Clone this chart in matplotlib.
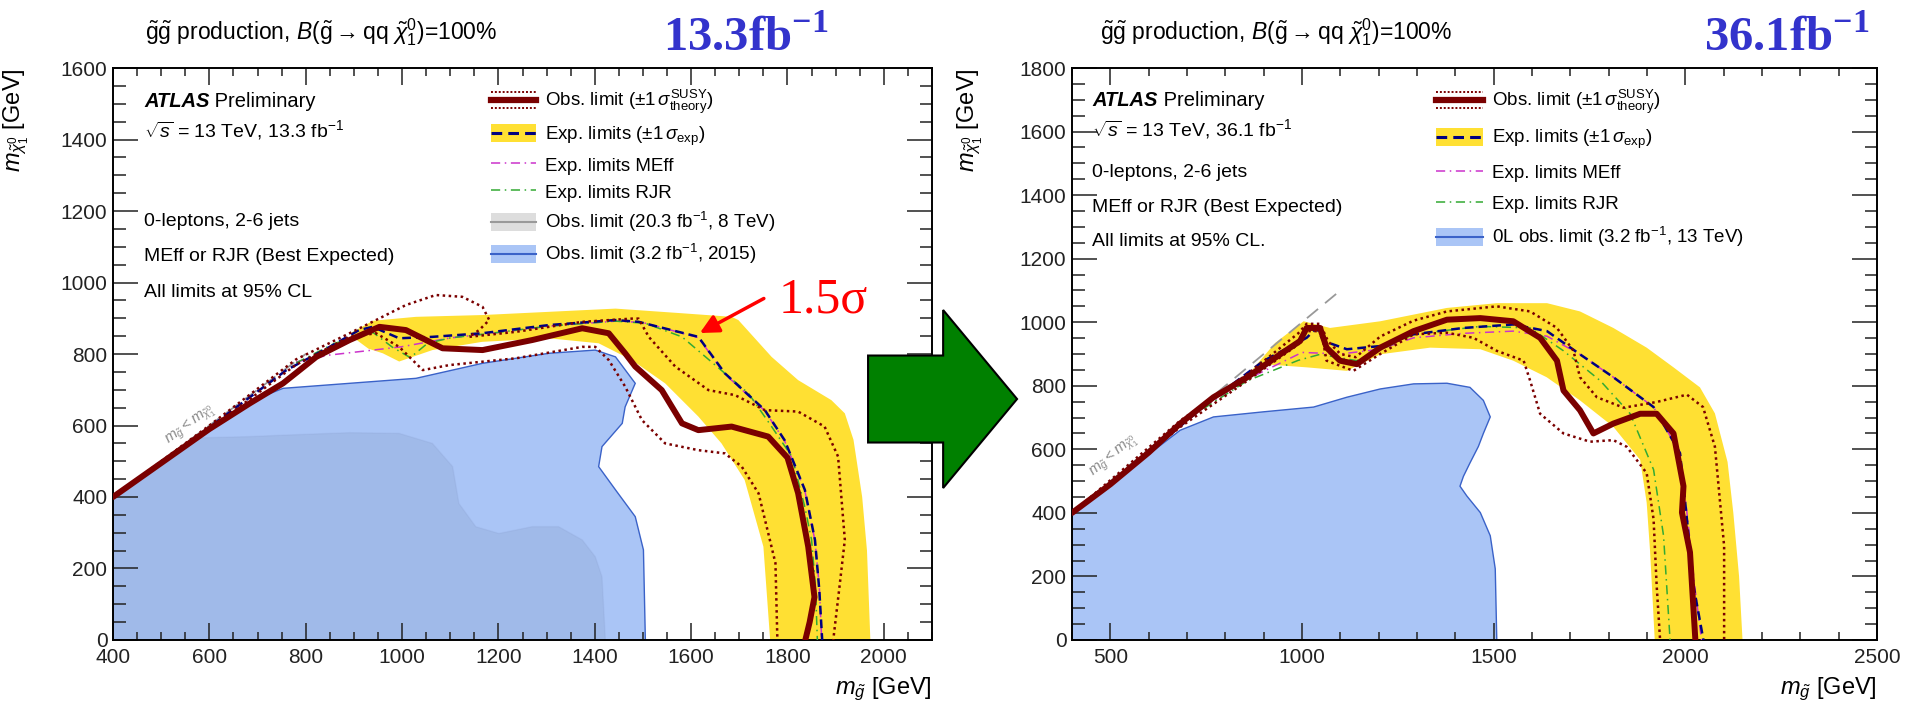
import matplotlib
matplotlib.use("Agg")
import matplotlib.pyplot as plt
from matplotlib.lines import Line2D
from matplotlib.patches import Patch, Rectangle, FancyArrow
from matplotlib.legend_handler import HandlerBase
from matplotlib.ticker import MultipleLocator

plt.rcParams['font.family'] = ['Liberation Sans', 'DejaVu Sans']
plt.rcParams['mathtext.fontset'] = 'custom'
plt.rcParams['mathtext.rm'] = 'Liberation Sans'
plt.rcParams['mathtext.it'] = 'Liberation Sans:italic'
plt.rcParams['mathtext.bf'] = 'Liberation Serif:bold'
plt.rcParams['mathtext.sf'] = 'Liberation Sans'
plt.rcParams['axes.linewidth'] = 1.4

# ---------------- 13.3 fb-1 (left) ----------------
l_blue_x = [400, 400, 684, 753, 891, 1029, 1167, 1305, 1401, 1443, 1484, 1463, 1457, 1415, 1408, 1443, 1484, 1501, 1505]
l_blue_y = [0, 400, 667, 704, 718, 732, 774, 802, 811, 792, 718, 652, 606, 541, 485, 420, 345, 252, 0]

l_grey_x = [400, 400, 565, 684, 753, 891, 994, 1063, 1105, 1118, 1153, 1201, 1270, 1325, 1374, 1401, 1415, 1422]
l_grey_y = [0, 400, 565, 569, 573, 580, 578, 550, 485, 382, 317, 298, 317, 317, 280, 233, 177, 0]

l_band_up_x = [895, 940, 1029, 1167, 1305, 1443, 1581, 1684, 1698, 1767, 1822, 1891, 1919, 1937, 1955, 1965, 1972]
l_band_up_y = [860, 893, 904, 909, 918, 927, 914, 904, 895, 792, 727, 671, 634, 560, 400, 250, 0]
l_band_lo_x = [895, 930, 960, 994, 1063, 1166, 1305, 1408, 1477, 1546, 1615, 1663, 1711, 1750, 1764]
l_band_lo_y = [850, 815, 802, 779, 811, 834, 844, 830, 783, 718, 625, 550, 448, 261, 0]

l_obs_x = [400, 500, 600, 684, 753, 822, 891, 953, 1008, 1084, 1167, 1270, 1374, 1429, 1463, 1484, 1539, 1581, 1615, 1684, 1760, 1800, 1822, 1843, 1856, 1846, 1837]
l_obs_y = [400, 495, 590, 662, 718, 792, 839, 876, 867, 816, 811, 839, 872, 858, 802, 765, 699, 606, 587, 597, 569, 510, 411, 261, 120, 50, 0]

l_up_x = [400, 600, 780, 891, 946, 1008, 1070, 1125, 1167, 1181, 1160, 1139, 1236, 1374, 1477, 1491, 1512, 1567, 1636, 1691, 1753, 1822, 1877, 1905, 1919, 1908, 1895]
l_up_y = [400, 600, 785, 858, 895, 937, 965, 960, 932, 895, 867, 848, 862, 890, 899, 899, 848, 765, 699, 685, 643, 639, 597, 513, 280, 150, 0]

l_dn_x = [400, 600, 780, 891, 946, 994, 1043, 1098, 1236, 1374, 1401, 1429, 1463, 1498, 1546, 1615, 1670, 1705, 1740, 1760, 1775, 1779]
l_dn_y = [400, 590, 770, 848, 858, 820, 755, 769, 788, 820, 820, 783, 709, 615, 550, 531, 522, 485, 410, 299, 215, 0]

l_exp_x = [400, 600, 760, 850, 911, 939, 994, 1063, 1166, 1305, 1443, 1491, 1615, 1670, 1753, 1794, 1836, 1857, 1866, 1872]
l_exp_y = [400, 595, 755, 820, 867, 876, 844, 848, 858, 881, 895, 890, 848, 746, 643, 559, 420, 280, 140, 0]

l_meff_x = [780, 849, 998, 1100, 1200, 1305, 1443, 1500, 1615, 1670, 1753, 1794, 1836, 1857, 1866, 1871]
l_meff_y = [778, 797, 820, 845, 860, 878, 892, 888, 846, 744, 641, 557, 418, 278, 150, 0]

l_rjr_x = [780, 860, 940, 980, 1017, 1053, 1100, 1166, 1305, 1443, 1505, 1581, 1670, 1719, 1767, 1809, 1836, 1850, 1858, 1862]
l_rjr_y = [775, 830, 860, 819, 790, 830, 845, 855, 878, 892, 886, 848, 746, 690, 597, 513, 372, 280, 150, 0]

# ---------------- 36.1 fb-1 (right) ----------------
r_blue_x = [400, 400, 682, 769, 899, 1030, 1117, 1204, 1291, 1378, 1438, 1473, 1491, 1473, 1460, 1438, 1421, 1412, 1430, 1465, 1491, 1504, 1508]
r_blue_y = [0, 400, 660, 702, 718, 733, 764, 790, 806, 808, 795, 754, 702, 650, 609, 557, 515, 484, 453, 401, 328, 224, 0]

r_band_up_x = [870, 930, 1004, 1073, 1204, 1378, 1508, 1639, 1725, 1812, 1899, 1969, 2038, 2077, 2110, 2125, 2140, 2149]
r_band_up_y = [850, 935, 1003, 982, 1003, 1045, 1060, 1060, 1034, 982, 920, 858, 795, 713, 560, 400, 200, 0]
r_band_lo_x = [870, 899, 1012, 1117, 1204, 1334, 1465, 1551, 1638, 1725, 1812, 1882, 1899, 1908, 1920]
r_band_lo_y = [850, 868, 858, 847, 899, 920, 915, 879, 827, 754, 671, 567, 432, 276, 0]

r_obs_x = [400, 500, 600, 682, 769, 856, 943, 995, 1012, 1047, 1064, 1099, 1143, 1204, 1291, 1378, 1465, 1551, 1621, 1665, 1682, 1725, 1760, 1812, 1882, 1925, 1969, 1995, 1991, 2012, 2026]
r_obs_y = [400, 490, 590, 681, 764, 826, 899, 941, 982, 982, 920, 879, 868, 920, 972, 1008, 1013, 1003, 951, 879, 785, 723, 650, 681, 712, 712, 650, 484, 401, 276, 0]

r_up_x = [400, 682, 856, 990, 1012, 1047, 1068, 1100, 1140, 1204, 1291, 1378, 1508, 1595, 1665, 1708, 1725, 1769, 1839, 1925, 2004, 2046, 2077, 2101, 2101]
r_up_y = [400, 690, 835, 965, 995, 995, 940, 900, 890, 955, 1005, 1034, 1050, 1034, 982, 910, 827, 764, 731, 749, 772, 733, 608, 296, 0]

r_dn_x = [400, 682, 856, 990, 1010, 1050, 1064, 1134, 1204, 1291, 1378, 1447, 1508, 1578, 1595, 1621, 1682, 1751, 1812, 1847, 1899, 1917, 1925, 1934]
r_dn_y = [400, 670, 815, 930, 972, 972, 879, 847, 900, 962, 967, 951, 910, 879, 816, 712, 650, 624, 629, 608, 525, 380, 172, 0]

r_exp_x = [400, 600, 769, 899, 1012, 1038, 1056, 1117, 1204, 1291, 1421, 1551, 1639, 1725, 1812, 1917, 1986, 2004, 2021, 2047]
r_exp_y = [400, 590, 760, 878, 951, 982, 941, 915, 925, 962, 982, 993, 972, 899, 827, 733, 588, 380, 172, 0]

r_meff_x = [700, 856, 1000, 1100, 1204, 1291, 1421, 1551, 1639, 1725, 1812, 1917, 1986, 2006, 2024, 2042]
r_meff_y = [700, 820, 905, 900, 915, 951, 965, 972, 956, 899, 827, 733, 588, 380, 172, 0]

r_rjr_x = [700, 856, 990, 1047, 1143, 1291, 1465, 1595, 1682, 1778, 1856, 1917, 1943, 1960]
r_rjr_y = [695, 815, 880, 899, 879, 962, 987, 982, 910, 816, 712, 536, 328, 0]

YELLOW = '#ffe033'
OBS = '#7a0000'
NAVY = '#000080'
BLUE_FILL = '#aac5f6'
BLUE_EDGE = '#3a62c8'
MAG = '#cc33cc'
GRN = '#33aa33'
TXT = 14
LEG = 13.5


class ObsHandler(HandlerBase):
    # thick solid line flanked by two dotted lines
    def create_artists(self, legend, orig_handle, xd, yd, w, h, fs, trans):
        y0 = h / 2 - yd
        arts = [Line2D([-xd, w - xd], [y0, y0], color=OBS, lw=4.5)]
        for dy in (h / 2 - 1, -h / 2 + 1):
            arts.append(Line2D([-xd, w - xd], [y0 + dy, y0 + dy], color=OBS,
                               lw=1.4, linestyle=(0, (1, 1))))
        for a in arts:
            a.set_transform(trans)
        return arts


class BandHandler(HandlerBase):
    # filled box with a line through the middle
    def __init__(self, fc, lc, ls, lw):
        super().__init__()
        self.fc, self.lc, self.ls, self.lw = fc, lc, ls, lw

    def create_artists(self, legend, orig_handle, xd, yd, w, h, fs, trans):
        r = Rectangle((-xd, -yd), w, h, fc=self.fc, ec='none', transform=trans)
        ln = Line2D([-xd, w - xd], [h / 2 - yd] * 2, color=self.lc, lw=self.lw,
                    linestyle=self.ls, transform=trans)
        return [r, ln]


def style_axes(ax, xlim, ylim, xmaj, xmin):
    ax.set_xlim(*xlim)
    ax.set_ylim(*ylim)
    ax.xaxis.set_major_locator(MultipleLocator(xmaj))
    ax.xaxis.set_minor_locator(MultipleLocator(xmin))
    ax.yaxis.set_major_locator(MultipleLocator(200))
    ax.yaxis.set_minor_locator(MultipleLocator(50))
    ax.tick_params(which='both', direction='in', top=True, right=True, width=1.1,
                   labelsize=15, colors='#222222')
    ax.tick_params(axis='x', which='major', length=12, pad=6)
    ax.tick_params(axis='x', which='minor', length=6)
    ax.tick_params(axis='y', which='major', length=18, pad=4)
    ax.tick_params(axis='y', which='minor', length=9)
    ax.set_xlabel(r'$m_{\tilde{g}}$ [GeV]', fontsize=17, loc='right')
    ax.set_ylabel(r'$m_{\tilde{\chi}^{0}_{1}}$ [GeV]', fontsize=17, loc='top')
    ax.xaxis.set_label_coords(1.0, -0.062)


def draw_limits(ax, band_up, band_lo, obs, up, dn, exp, meff, rjr, diag_end):
    bx = band_up[0] + band_lo[0][::-1]
    by = band_up[1] + band_lo[1][::-1]
    ax.fill(bx, by, color=YELLOW, lw=0, zorder=2)
    ax.plot([400, diag_end], [400, diag_end], color='#999999', lw=1.3,
            dashes=(8, 5), zorder=3)
    ax.plot(*meff, color=MAG, lw=1.1, dashes=(6, 3, 1, 3), zorder=4)
    ax.plot(*rjr, color=GRN, lw=1.1, dashes=(6, 3, 1, 3), zorder=4)
    ax.plot(*exp, color=NAVY, lw=1.8, dashes=(3.5, 2), zorder=5)
    for c in (up, dn):
        ax.plot(*c, color=OBS, lw=1.8, linestyle=(0, (1, 1.4)), zorder=5)
    ax.plot(*obs, color=OBS, lw=4.3, solid_capstyle='round',
            solid_joinstyle='round', zorder=6)


fig = plt.figure(figsize=(19.15, 7.10), dpi=100)
axL = fig.add_axes([0.0590, 0.0986, 0.4277, 0.8056])
axR = fig.add_axes([0.5598, 0.0986, 0.4204, 0.8056])

title = (r'$\tilde{\mathrm{g}}\tilde{\mathrm{g}}$ production, '
         r'$B(\tilde{\mathrm{g}}\rightarrow \mathrm{qq}\ \tilde{\chi}^{0}_{1}$)=100%')

# left panel
style_axes(axL, (400, 2100), (0, 1600), 200, 50)
axL.yaxis.set_label_coords(-0.100, 1.0)
axL.fill(l_blue_x, l_blue_y, fc=BLUE_FILL, ec=BLUE_EDGE, lw=1.0, zorder=1)
axL.fill(l_grey_x, l_grey_y, fc='#4a5a80', alpha=0.10, ec='#7080b0', lw=1.0, zorder=1.5)
draw_limits(axL, (l_band_up_x, l_band_up_y), (l_band_lo_x, l_band_lo_y),
            (l_obs_x, l_obs_y), (l_up_x, l_up_y), (l_dn_x, l_dn_y),
            (l_exp_x, l_exp_y), (l_meff_x, l_meff_y), (l_rjr_x, l_rjr_y), 800)
axL.text(562, 601, r'$m_{\tilde{g}} < m_{\tilde{\chi}^{0}_{1}}$', rotation=36.5,
         rotation_mode='anchor', ha='center', va='center', fontsize=11, color='#8a8a8a')

# right panel
style_axes(axR, (400, 2500), (0, 1800), 500, 100)
axR.yaxis.set_label_coords(-0.108, 1.0)
axR.fill(r_blue_x, r_blue_y, fc=BLUE_FILL, ec=BLUE_EDGE, lw=1.0, zorder=1)
draw_limits(axR, (r_band_up_x, r_band_up_y), (r_band_lo_x, r_band_lo_y),
            (r_obs_x, r_obs_y), (r_up_x, r_up_y), (r_dn_x, r_dn_y),
            (r_exp_x, r_exp_y), (r_meff_x, r_meff_y), (r_rjr_x, r_rjr_y), 1100)
axR.text(510, 578, r'$m_{\tilde{g}} < m_{\tilde{\chi}^{0}_{1}}$', rotation=40,
         rotation_mode='anchor', ha='center', va='center', fontsize=11, color='#8a8a8a')

# labels inside each panel
for ax, lumi, x0, ys, cl in [
        (axL, '13.3', 0.038, [0.9406, 0.8916, 0.7308, 0.6696, 0.6084], 'All limits at 95% CL'),
        (axR, '36.1', 0.025, [0.944, 0.893, 0.818, 0.757, 0.696], 'All limits at 95% CL.')]:
    t = ax.text(x0, ys[0], 'ATLAS', transform=ax.transAxes, fontsize=14.5,
                fontweight='bold', fontstyle='italic', va='center')
    ax.annotate(' Preliminary', xy=(1, 0.5), xycoords=t, va='center', fontsize=14.5)
    ax.text(x0, ys[1], r'$\sqrt{s}$ = 13 TeV, ' + lumi + r' fb$^{-1}$',
            transform=ax.transAxes, fontsize=TXT, va='center')
    ax.text(x0, ys[2], '0-leptons, 2-6 jets', transform=ax.transAxes, fontsize=TXT, va='center')
    ax.text(x0, ys[3], 'MEff or RJR (Best Expected)', transform=ax.transAxes,
            fontsize=TXT, va='center')
    ax.text(x0, ys[4], cl, transform=ax.transAxes, fontsize=TXT, va='center')

# legends
obs_h = Line2D([], [], color=OBS)
exp_h = Patch(color=YELLOW)
meff_h = Line2D([], [], color=MAG, lw=1.1, dashes=(6, 3, 1, 3))
rjr_h = Line2D([], [], color=GRN, lw=1.1, dashes=(6, 3, 1, 3))
grey_h = Patch(color='#dddddd')
blue_h = Patch(color=BLUE_FILL)
hmap = {obs_h: ObsHandler(),
        exp_h: BandHandler(YELLOW, NAVY, (0, (3.5, 2)), 2.2),
        grey_h: BandHandler('#dddddd', '#999999', '-', 1.5),
        blue_h: BandHandler(BLUE_FILL, BLUE_EDGE, '-', 1.5)}
obs_lab = r'Obs. limit ($\pm1\,\sigma^{\rm SUSY}_{\rm theory}$)'
exp_lab = r'Exp. limits ($\pm1\,\sigma_{\rm exp}$)'

axL.legend([obs_h, exp_h, meff_h, rjr_h, grey_h, blue_h],
           [obs_lab, exp_lab, 'Exp. limits MEff', 'Exp. limits RJR',
            r'Obs. limit (20.3 fb$^{-1}$, 8 TeV)', r'Obs. limit (3.2 fb$^{-1}$, 2015)'],
           handler_map=hmap, loc='upper left', bbox_to_anchor=(0.4615, 0.965),
           frameon=False, fontsize=LEG, handlelength=2.4, handleheight=1.1,
           labelspacing=0.42, handletextpad=0.5, borderpad=0, borderaxespad=0)
axR.legend([obs_h, exp_h, meff_h, rjr_h, blue_h],
           [obs_lab, exp_lab, 'Exp. limits MEff', 'Exp. limits RJR',
            r'0L obs. limit (3.2 fb$^{-1}$, 13 TeV)'],
           handler_map=hmap, loc='upper left', bbox_to_anchor=(0.452, 0.965),
           frameon=False, fontsize=LEG, handlelength=2.5, handleheight=1.1,
           labelspacing=0.62, handletextpad=0.5, borderpad=0, borderaxespad=0)

# excess marker
axL.text(1781, 915, '1.5σ', color='red', fontsize=36, family='Liberation Serif',
         va='baseline', ha='left', zorder=8)
axL.annotate('', xy=(1613, 855), xytext=(1756, 959),
             arrowprops=dict(arrowstyle='-|>', color='red', lw=2.5, mutation_scale=28),
             zorder=8)

# panel headers
for xt, lumi, xl in [(0.0757, '13.3', 0.346), (0.5744, '36.1', 0.890)]:
    fig.text(xt, 0.945, title, fontsize=16.5, va='baseline')
    fig.text(xl, 0.928, r'$\mathbf{' + lumi + r'fb}^{\mathbf{-1}}$', fontsize=35,
             color='#3333cc', va='baseline')

fig.add_artist(FancyArrow(0.4533, 0.438, 0.0778, 0, width=0.1225, head_width=0.2507,
                          head_length=0.0386, length_includes_head=True,
                          transform=fig.transFigure, fc='#008000', ec='black', lw=1.5))

fig.savefig('out.png', dpi=100)
